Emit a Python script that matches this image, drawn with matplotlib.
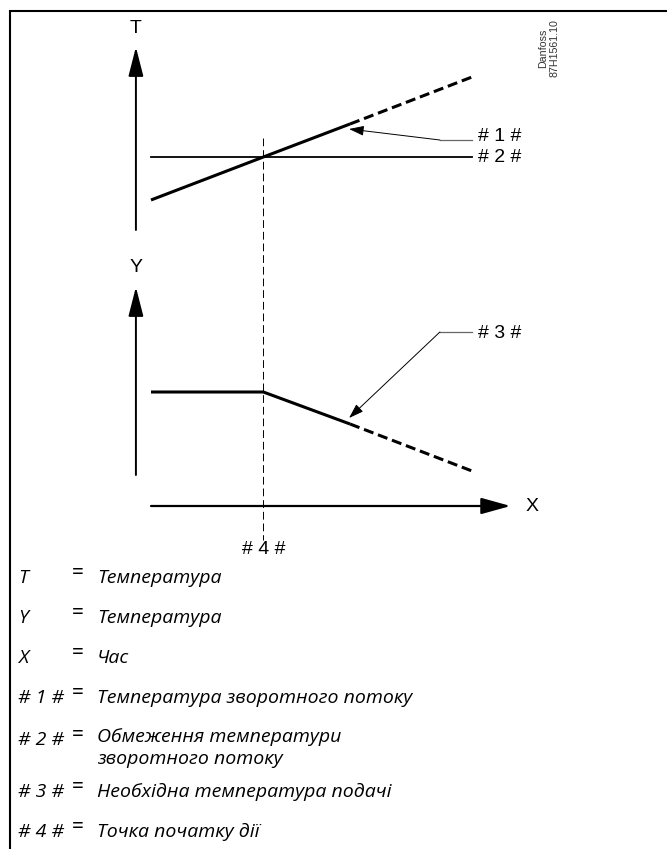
import matplotlib.pyplot as plt

# schematic data (time in arbitrary units, levels in arbitrary units)
t_pts = [0, 3.5, 6.2, 10]
return_temp = [36.0, 40.3, 43.6, 48.3]     # #1#
limit_temp = [40.3, 40.3]                  # #2#
flow_temp = [16.8, 16.8, 13.6, 8.9]        # #3#
t_action = 3.5                             # #4#

legend_keys = ['T', 'Y', 'X', '# 1 #', '# 2 #', '# 3 #', '# 4 #']
legend_texts = ['Температура', 'Температура', 'Час',
                'Температура зворотного потоку',
                'Обмеження температури\nзворотного потоку',
                'Необхідна температура подачі',
                'Точка початку дії']
legend_rows = [578, 618, 658, 698, 740, 792, 832]

W, H = 667, 849
fig = plt.figure(figsize=(W / 100, H / 100), dpi=100)

# page axes in pixel units for frame and legend
page = fig.add_axes([0, 0, 1, 1])
page.set_xlim(0, W)
page.set_ylim(H, 0)
page.axis('off')

# diagram axes: x = time, y = level
ax = fig.add_axes([0, 0, 1, 1])
ax.set_xlim(-151 / 32.1, (W - 151) / 32.1)
ax.set_ylim((560 - H) / 10, 56.0)
ax.axis('off')

# frame (top + left)
page.plot([9, W], [11, 11], color='black', lw=1.5, solid_capstyle='butt')
page.plot([9.5, 9.5], [10, H], color='black', lw=1.5, solid_capstyle='butt')

diag_font = 'Liberation Sans'
diag_size = 14
arrow_axis = dict(arrowstyle='-|>,head_length=0.9,head_width=0.23',
                  mutation_scale=20, color='black', lw=1.4, shrinkA=0, shrinkB=0)

# T axis
ax.annotate('', xy=(-0.47, 51.3), xytext=(-0.47, 33.0), arrowprops=arrow_axis)
ax.text(-0.47, 53.2, 'T', ha='center', va='center', fontsize=diag_size, family=diag_font)
# Y axis
ax.annotate('', xy=(-0.47, 27.3), xytext=(-0.47, 8.5), arrowprops=arrow_axis)
ax.text(-0.47, 29.3, 'Y', ha='center', va='center', fontsize=diag_size, family=diag_font)
# X axis
ax.annotate('', xy=(11.2, 5.4), xytext=(0, 5.4),
            arrowprops=dict(arrowstyle='-|>,head_length=0.9,head_width=0.25',
                            mutation_scale=20, color='black', lw=1.6,
                            shrinkA=0, shrinkB=0))
ax.text(11.87, 5.4, 'X', ha='center', va='center', fontsize=diag_size, family=diag_font)

# action point dashed vertical
ax.plot([t_action, t_action], [42.2, 2.0], color='black', lw=0.7, dashes=(8, 4))

# return temperature (#1#): solid then dashed
ax.plot(t_pts[:3], return_temp[:3], color='black', lw=2.2, solid_capstyle='butt')
ax.plot(t_pts[2:], return_temp[2:], color='black', lw=2.2, dashes=(3.3, 1.6))
# limit (#2#)
ax.plot([t_pts[0], t_pts[-1]], limit_temp, color='black', lw=1.3)
# flow temperature (#3#)
ax.plot(t_pts[:3], flow_temp[:3], color='black', lw=2.2, solid_capstyle='butt')
ax.plot(t_pts[2:], flow_temp[2:], color='black', lw=2.2, dashes=(3.3, 1.6))

# leaders
leader_arrow = dict(arrowstyle='-|>,head_length=0.9,head_width=0.3',
                    mutation_scale=10, color='black', lw=0.7, shrinkA=0, shrinkB=0)
ax.plot([10.0, 9.0], [42.0, 42.0], color='#666666', lw=0.9)
ax.annotate('', xy=(6.17, 43.1), xytext=(9.0, 42.0), arrowprops=leader_arrow)
ax.plot([10.0, 9.0], [22.8, 22.8], color='#666666', lw=0.9)
ax.annotate('', xy=(6.17, 14.2), xytext=(9.0, 22.8), arrowprops=leader_arrow)

ax.text(10.2, 42.4, '# 1 #', ha='left', va='center', fontsize=diag_size, family=diag_font)
ax.text(10.2, 40.3, '# 2 #', ha='left', va='center', fontsize=diag_size, family=diag_font)
ax.text(10.2, 22.7, '# 3 #', ha='left', va='center', fontsize=diag_size, family=diag_font)
ax.text(t_action, 1.0, '# 4 #', ha='center', va='center', fontsize=diag_size, family=diag_font)

# drawing number
page.text(549, 77, 'Danfoss\n87H1561.10', rotation=90, ha='center', va='bottom',
          fontsize=7.7, family=diag_font, color='#333333', linespacing=1.15)

# legend
leg_font = 'Open Sans'
leg_size = 14
for key, txt, y in zip(legend_keys, legend_texts, legend_rows):
    page.text(18, y, key, ha='left', va='center', fontsize=leg_size,
              family=leg_font, style='italic')
    page.text(72, y - 5, '=', ha='left', va='center', fontsize=15, family=leg_font)
    if '\n' in txt:
        page.text(97, y - 12, txt, ha='left', va='top', fontsize=leg_size,
                  family=leg_font, style='italic', linespacing=1.25)
    else:
        page.text(97, y, txt, ha='left', va='center', fontsize=leg_size,
                  family=leg_font, style='italic')

fig.savefig('out.png', dpi=100)
